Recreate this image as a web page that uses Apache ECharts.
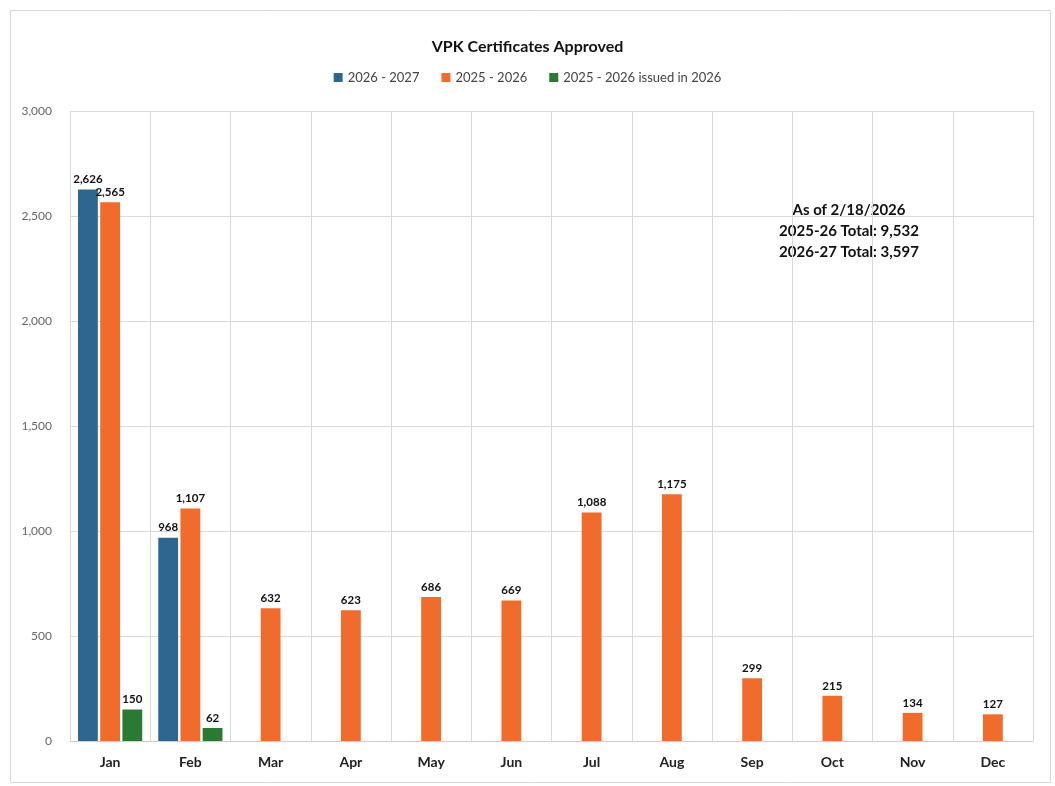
<!DOCTYPE html>
<html>
<head>
<meta charset="utf-8">
<script src="https://cdn.jsdelivr.net/npm/echarts@6/dist/echarts.min.js"></script>
<style>
  html, body { margin: 0; padding: 0; background: #fff; }
  #chart { width: 1055px; height: 786px; }
</style>
</head>
<body>
<div id="chart"></div>
<script>
const months = ["Jan", "Feb", "Mar", "Apr", "May", "Jun", "Jul", "Aug", "Sep", "Oct", "Nov", "Dec"];
const year2627 = [2626, 968, null, null, null, null, null, null, null, null, null, null];
const year2526 = [2565, 1107, 632, 623, 686, 669, 1088, 1175, 299, 215, 134, 127];
const issued2026 = [150, 62, null, null, null, null, null, null, null, null, null, null];
const noteLines = ["As of 2/18/2026", "2025-26 Total: 9,532", "2026-27 Total: 3,597"];

let myChart = echarts.init(document.getElementById("chart"));

// bold number labels above each bar
const barLabel = {
  show: true,
  position: "top",
  distance: 4,
  color: "#111",
  fontWeight: "bold",
  fontSize: 11.5,
  fontFamily: "Lato",
  formatter: p => p.value == null ? "" : p.value.toLocaleString("en-US")
};

let option = {
  animation: false,
  textStyle: { fontFamily: "Lato" },
  title: {
    text: "VPK Certificates Approved",
    left: "center",
    top: 34,
    textStyle: { fontSize: 16, fontWeight: "bold", color: "#111" }
  },
  legend: {
    top: 66,
    left: "center",
    itemWidth: 9,
    itemHeight: 9,
    itemGap: 22,
    icon: "rect",
    textStyle: { fontSize: 13, color: "#444" }
  },
  graphic: [
    {
      type: "rect",
      left: 8, top: 8,
      shape: { width: 1040, height: 772 },
      style: { fill: "none", stroke: "#d8d8d8", lineWidth: 1 }
    },
    {
      type: "text",
      x: 849, y: 200,
      style: {
        text: noteLines.join("\n"),
        align: "center",
        verticalAlign: "top",
        fontSize: 15,
        fontWeight: "bold",
        lineHeight: 21,
        fill: "#111",
        fontFamily: "Lato"
      }
    }
  ],
  grid: { left: 70, right: 22, top: 111, bottom: 45 },
  xAxis: {
    type: "category",
    data: months,
    axisTick: { show: false },
    axisLine: { lineStyle: { color: "#cfcfcf" } },
    axisLabel: { color: "#222", fontWeight: "bold", fontSize: 14, margin: 14 },
    splitLine: { show: true, lineStyle: { color: "#d9d9d9" } }
  },
  yAxis: {
    type: "value",
    min: 0,
    max: 3000,
    interval: 500,
    axisLabel: {
      color: "#666",
      fontSize: 12,
      margin: 18,
      formatter: v => v.toLocaleString("en-US")
    },
    splitLine: { lineStyle: { color: "#d9d9d9" } }
  },
  series: [
    {
      name: "2026 - 2027",
      type: "bar",
      data: year2627,
      itemStyle: { color: "#2d6790" },
      barGap: "12%",
      barCategoryGap: "20%",
      label: barLabel
    },
    {
      name: "2025 - 2026",
      type: "bar",
      data: year2526,
      itemStyle: { color: "#f06c2c" },
      label: barLabel
    },
    {
      name: "2025 - 2026 issued in 2026",
      type: "bar",
      data: issued2026,
      itemStyle: { color: "#2b7a34" },
      label: barLabel
    }
  ]
};
myChart.setOption(option);
</script>
</body>
</html>
